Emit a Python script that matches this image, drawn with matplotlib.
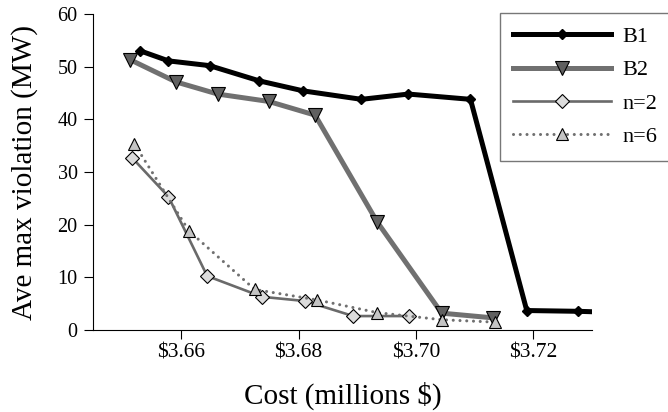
import matplotlib.pyplot as plt

plt.rcParams['font.family'] = ['Liberation Serif', 'DejaVu Serif']

# cost (millions $) and average max violation (MW) for each method
b1_cost = [3.6530, 3.6578, 3.6648, 3.6733, 3.6808, 3.6907, 3.6987, 3.7093, 3.7189, 3.7277, 3.7380]
b1_viol = [53.0, 51.1, 50.2, 47.3, 45.4, 43.8, 44.8, 43.8, 3.7, 3.55, 3.2]

b2_cost = [3.6513, 3.6591, 3.6662, 3.6749, 3.6828, 3.6934, 3.7044, 3.7132]
b2_viol = [51.3, 47.1, 44.8, 43.4, 40.8, 20.5, 3.2, 2.3]

n2_cost = [3.6516, 3.6578, 3.6644, 3.6738, 3.6811, 3.6893, 3.6989]
n2_viol = [32.7, 25.3, 10.25, 6.3, 5.5, 2.65, 2.65]

n6_cost = [3.6520, 3.6613, 3.6725, 3.6832, 3.6934, 3.7044, 3.7134]
n6_viol = [35.3, 18.8, 7.7, 5.7, 3.3, 1.95, 1.5]

xticks = [3.66, 3.68, 3.70, 3.72]
xticklabels = [r'\$3.66', r'\$3.68', r'\$3.70', r'\$3.72']
yticks = [0, 10, 20, 30, 40, 50, 60]

fig = plt.figure(figsize=(6.68, 4.12), dpi=100)
ax = fig.add_axes([0.139, 0.199, 0.747, 0.767])

ax.plot(b1_cost, b1_viol, color='black', lw=3.6, marker='D', ms=5,
        mfc='black', mec='black', label='B1')
ax.plot(b2_cost, b2_viol, color='#707070', lw=3.6, marker='v', ms=9.5,
        mfc='#606060', mec='black', mew=0.8, label='B2')
ax.plot(n2_cost, n2_viol, color='#6a6a6a', lw=1.9, marker='D', ms=7,
        mfc='#dcdcdc', mec='black', mew=0.8, label='n=2')
ax.plot(n6_cost, n6_viol, color='#707070', lw=2.2, ls=(0, (0.01, 2.2)),
        dash_capstyle='round', marker='^', ms=8.5,
        mfc='#c4c4c4', mec='black', mew=0.8, label='n=6')

ax.set_xlim(3.6449, 3.7300)
ax.set_ylim(0, 60)
ax.set_xticks(xticks, labels=xticklabels, fontsize=15.5)
ax.set_yticks(yticks)
ax.tick_params(direction='out', length=6.5, width=0.8)
ax.tick_params(axis='y', labelsize=14.5, pad=4.5)
ax.tick_params(axis='x', labelsize=15.5, pad=3)

for side in ['top', 'right']:
    ax.spines[side].set_visible(False)
for side in ['left', 'bottom']:
    ax.spines[side].set_linewidth(0.8)

ax.set_xlabel(r'Cost (millions \$)', fontsize=21, labelpad=14)
ax.set_ylabel('Ave max violation (MW)', fontsize=21, labelpad=14)

leg = ax.legend(loc='upper left', bbox_to_anchor=(500 / 668, 1 - 13 / 412),
                bbox_transform=fig.transFigure, fontsize=16, frameon=True,
                fancybox=False, edgecolor='#555555', handlelength=4.4,
                handletextpad=0.5, labelspacing=0.58, borderpad=0.6,
                borderaxespad=0)
leg.get_frame().set_linewidth(1.0)

fig.savefig('out.png', dpi=100)
